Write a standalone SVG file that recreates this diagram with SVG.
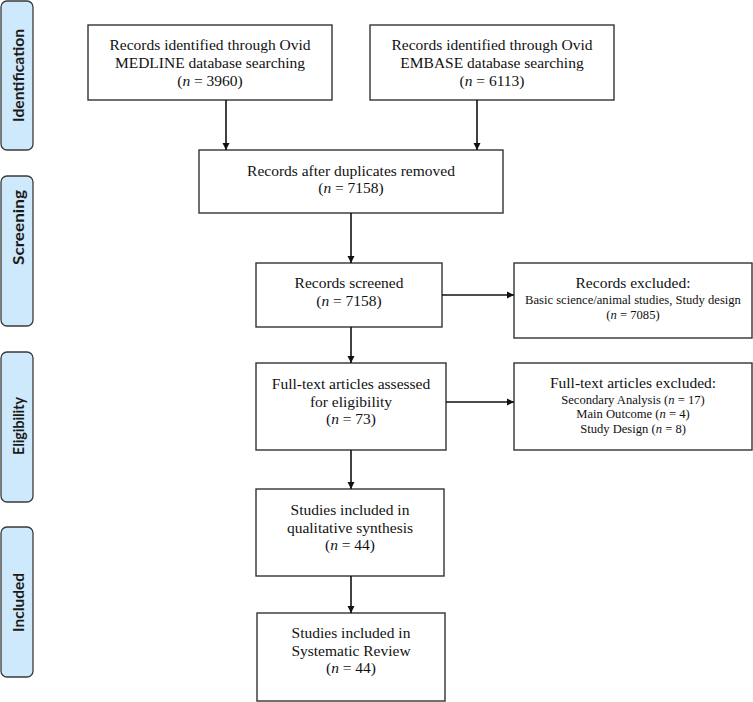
<svg xmlns="http://www.w3.org/2000/svg" width="753" height="702" viewBox="0 0 753 702">
<style>
.side{fill:#cde9fb;stroke:#3a3a3a;stroke-width:1.3}
.sl{font-family:Lato,"Open Sans","Liberation Sans",sans-serif;font-weight:bold;font-size:15.5px;fill:#1a1a1a;text-anchor:middle}
.box{fill:#fff;stroke:#333;stroke-width:1.4}
.t{font-family:"Liberation Serif","Times New Roman",serif;font-size:15.5px;fill:#111;text-anchor:middle}
.s{font-family:"Liberation Serif","Times New Roman",serif;font-size:12.6px;fill:#111;text-anchor:middle}
.c{stroke:#111;stroke-width:1.6;fill:none;marker-end:url(#ah)}
</style>
<defs>
<marker id="ah" viewBox="0 0 10 10" refX="10" refY="5" markerWidth="4.5" markerHeight="4.5" orient="auto" markerUnits="strokeWidth">
<path d="M0,0 L10,5 L0,10 z" fill="#111"/>
</marker>
</defs>
<rect width="753" height="702" fill="#fff"/>
<g id="side-identification"><rect class="side" x="1" y="1" width="32" height="149" rx="6"/><text class="sl" transform="translate(23.5,75.5) rotate(-90)" textLength="93" lengthAdjust="spacingAndGlyphs">Identification</text></g>
<g id="side-screening"><rect class="side" x="1" y="176" width="32" height="150" rx="6"/><text class="sl" transform="translate(23.5,227.5) rotate(-90)" textLength="75" lengthAdjust="spacingAndGlyphs">Screening</text></g>
<g id="side-eligibility"><rect class="side" x="1" y="352" width="32" height="150" rx="6"/><text class="sl" transform="translate(23.5,426) rotate(-90)" textLength="58" lengthAdjust="spacingAndGlyphs">Eligibility</text></g>
<g id="side-included"><rect class="side" x="1" y="527" width="32" height="150" rx="6"/><text class="sl" transform="translate(23.5,602.5) rotate(-90)" textLength="59" lengthAdjust="spacingAndGlyphs">Included</text></g>

<g id="medline"><rect class="box" x="88" y="25" width="244" height="75"/>
<text class="t" x="210" y="50">Records identified through Ovid</text>
<text class="t" x="210" y="68">MEDLINE database searching</text>
<text class="t" x="210" y="86">(<tspan font-style="italic">n</tspan> = 3960)</text></g>
<g id="embase"><rect class="box" x="370" y="25" width="244" height="75"/>
<text class="t" x="492" y="50">Records identified through Ovid</text>
<text class="t" x="492" y="68">EMBASE database searching</text>
<text class="t" x="492" y="86">(<tspan font-style="italic">n</tspan> = 6113)</text></g>
<g id="duplicates"><rect class="box" x="199" y="150" width="304" height="63"/>
<text class="t" x="351" y="176">Records after duplicates removed</text>
<text class="t" x="351" y="193">(<tspan font-style="italic">n</tspan> = 7158)</text></g>
<g id="screened"><rect class="box" x="256" y="263" width="186" height="64"/>
<text class="t" x="349" y="288">Records screened</text>
<text class="t" x="349" y="306">(<tspan font-style="italic">n</tspan> = 7158)</text></g>
<g id="excluded"><rect class="box" x="514" y="263" width="238" height="75"/>
<text class="t" x="633" y="288">Records excluded:</text>
<text class="s" x="633" y="303.5">Basic science/animal studies, Study design</text>
<text class="s" x="633" y="318.5">(<tspan font-style="italic">n</tspan> = 7085)</text></g>
<g id="fulltext"><rect class="box" x="256" y="363" width="190" height="87" stroke-width="1.8"/>
<text class="t" x="351" y="389">Full-text articles assessed</text>
<text class="t" x="351" y="407">for eligibility</text>
<text class="t" x="351" y="424">(<tspan font-style="italic">n</tspan> = 73)</text></g>
<g id="fulltext-excluded"><rect class="box" x="514" y="363" width="238" height="87"/>
<text class="t" x="633" y="388">Full-text articles excluded:</text>
<text class="s" x="633" y="403.5">Secondary Analysis (<tspan font-style="italic">n</tspan> = 17)</text>
<text class="s" x="633" y="418">Main Outcome (<tspan font-style="italic">n</tspan> = 4)</text>
<text class="s" x="633" y="432.5">Study Design (<tspan font-style="italic">n</tspan> = 8)</text></g>
<g id="qualitative"><rect class="box" x="256" y="489" width="188" height="87"/>
<text class="t" x="350" y="515">Studies included in</text>
<text class="t" x="350" y="533">qualitative synthesis</text>
<text class="t" x="350" y="550">(<tspan font-style="italic">n</tspan> = 44)</text></g>
<g id="systematic"><rect class="box" x="257" y="613" width="188" height="88"/>
<text class="t" x="351" y="638">Studies included in</text>
<text class="t" x="351" y="656">Systematic Review</text>
<text class="t" x="351" y="673">(<tspan font-style="italic">n</tspan> = 44)</text></g>

<g id="connectors">
<line class="c" x1="226" y1="100" x2="226" y2="150"/>
<line class="c" x1="477" y1="100" x2="477" y2="150"/>
<line class="c" x1="351" y1="213" x2="351" y2="263"/>
<line class="c" x1="442" y1="295" x2="514" y2="295"/>
<line class="c" x1="351" y1="327" x2="351" y2="363"/>
<line class="c" x1="446" y1="402" x2="514" y2="402"/>
<line class="c" x1="351" y1="450" x2="351" y2="489"/>
<line class="c" x1="351" y1="576" x2="351" y2="613"/>
</g>
</svg>
